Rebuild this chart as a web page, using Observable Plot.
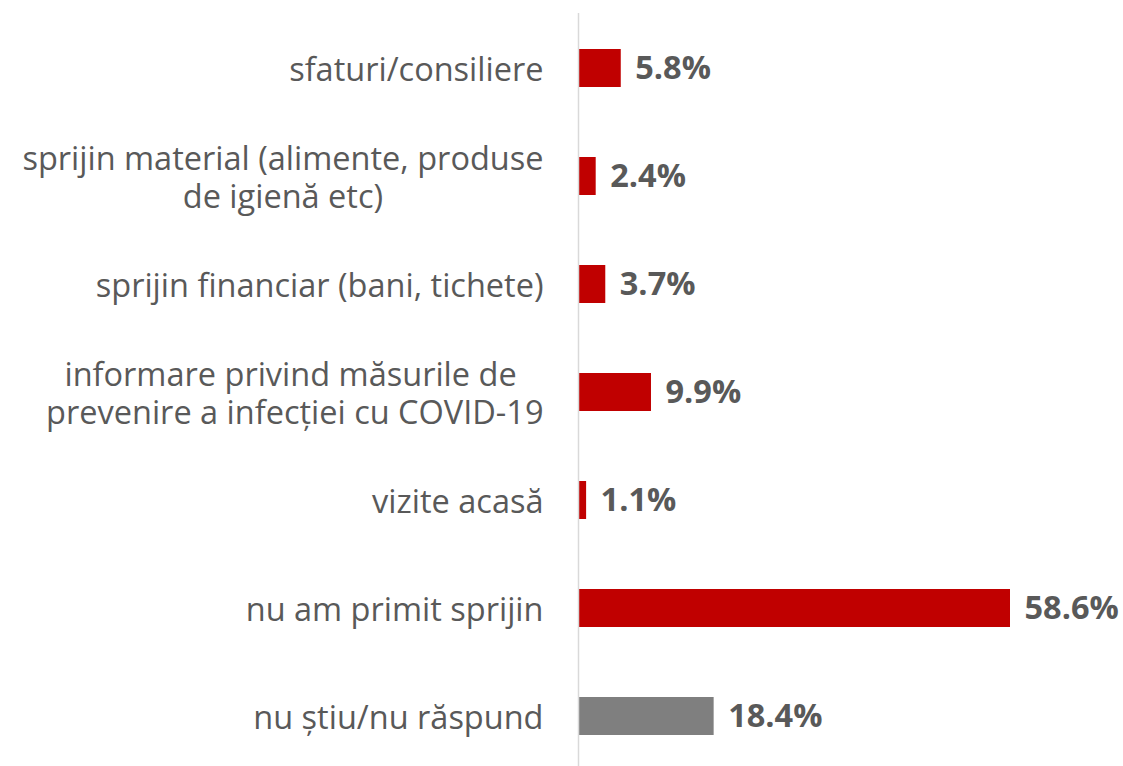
<!DOCTYPE html>
<html><head><meta charset="utf-8">
<script src="https://cdn.jsdelivr.net/npm/d3@7"></script>
<script src="https://cdn.jsdelivr.net/npm/@observablehq/plot@0.6"></script>
<style>
body{margin:0;background:#fff;}
#chart svg{display:block;}
</style>
</head><body><div id="chart"></div>
<script>
const categories = [
  "sfaturi/consiliere",
  "sprijin material (alimente, produse de igienă etc)",
  "sprijin financiar (bani, tichete)",
  "informare privind măsurile de prevenire a infecției cu COVID-19",
  "vizite acasă",
  "nu am primit sprijin",
  "nu știu/nu răspund"
];
const displayLabels = [
  "sfaturi/consiliere",
  "sprijin material (alimente, produse\nde igienă etc)",
  "sprijin financiar (bani, tichete)",
  "informare privind măsurile de \nprevenire a infecției cu COVID-19",
  "vizite acasă",
  "nu am primit sprijin",
  "nu știu/nu răspund"
];
const values = [5.8, 2.4, 3.7, 9.9, 1.1, 58.6, 18.4];
const groups = ["r","r","r","r","r","r","g"];

const data = categories.map((c, i) => ({cat: c, label: displayLabels[i], value: values[i], group: groups[i]}));

const font = "'Open Sans', sans-serif";
const chart = Plot.plot({
  width: 1123,
  height: 766,
  marginLeft: 578,
  marginRight: 0,
  marginTop: 13,
  marginBottom: 0,
  style: {fontFamily: font, background: "#fff", overflow: "visible"},
  x: {domain: [0, 58.6], range: [578, 1010], axis: null},
  y: {domain: categories, range: [13, 771], paddingInner: 0.65, paddingOuter: 0.325, axis: null},
  color: {domain: ["r","g"], range: ["#C00000", "#7F7F7F"]},
  marks: [
    Plot.barX(data, {y: "cat", x: "value", fill: "group"}),
    Plot.ruleX([0], {stroke: "#D9D9D9", strokeWidth: 1.5}),
    Plot.text(data, {y: "cat", x: "value", text: d => d.value.toFixed(1) + "%", textAnchor: "start", dx: 14, fill: "#595959", fontSize: 32.5, fontWeight: "bold"}),
    Plot.text(data, {y: "cat", x: 0, text: "label", textAnchor: "end", dx: -35, fill: "#595959", fontSize: 32.5, lineHeight: 1.17, className: "cat-labels"})
  ]
});
document.getElementById("chart").append(chart);

// center-align lines inside multi-line labels (block stays right-aligned)
chart.querySelectorAll(".cat-labels text").forEach(t => {
  const spans = t.querySelectorAll("tspan");
  if (spans.length < 2) return;
  const w = t.getBBox().width;
  t.setAttribute("text-anchor", "middle");
  spans.forEach(s => s.setAttribute("x", -w / 2));
});
</script>
</body></html>
